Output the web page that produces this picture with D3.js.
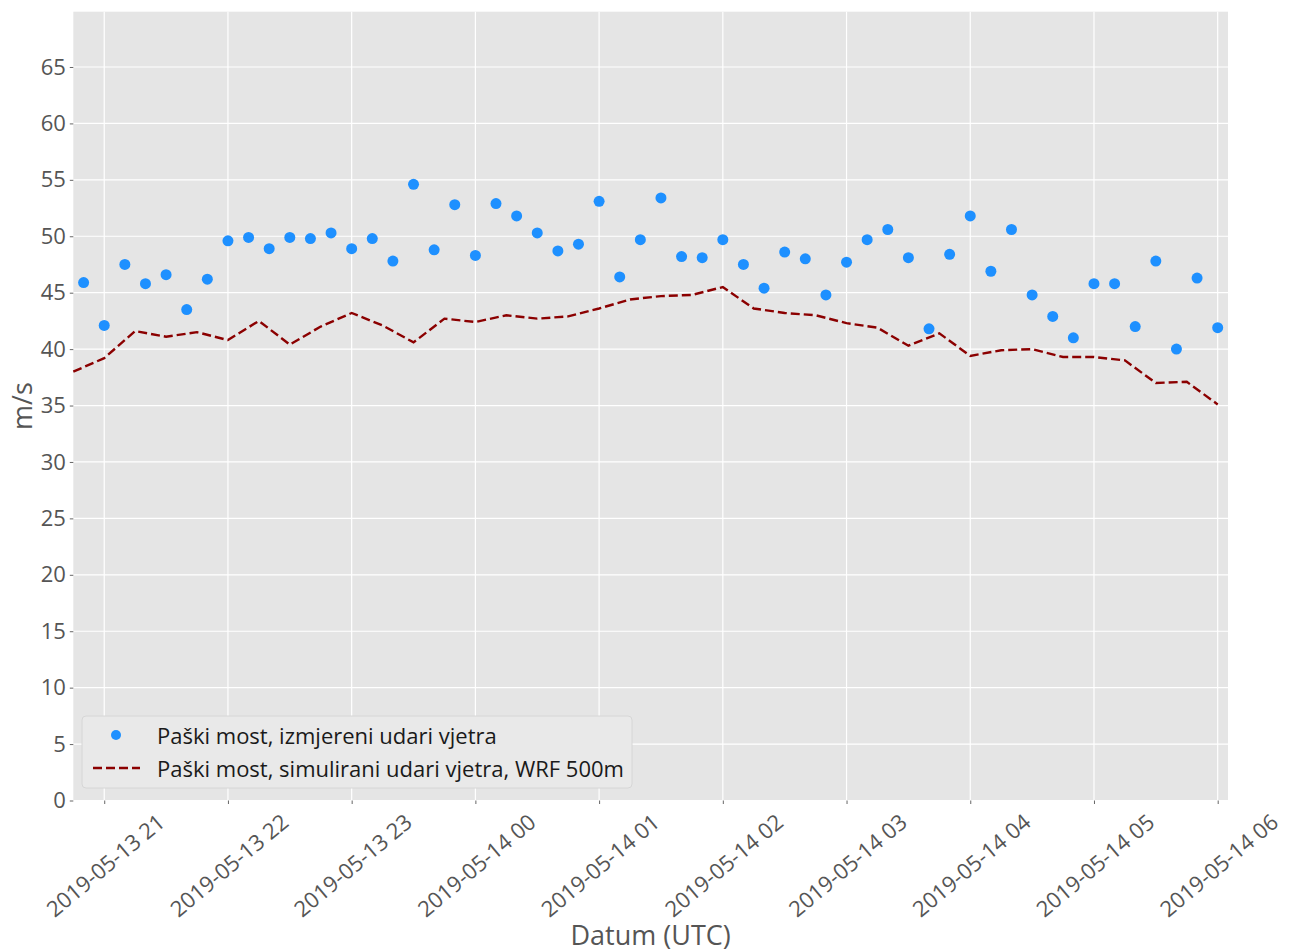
<!DOCTYPE html>
<html>
<head>
<meta charset="utf-8">
<script src="https://cdn.jsdelivr.net/npm/d3@7"></script>
<style>
  html, body { margin: 0; padding: 0; background: #ffffff; }
  svg { display: block; font-family: "Open Sans", "Noto Sans", "DejaVu Sans", sans-serif; }
</style>
</head>
<body>
<svg id="chart" width="1291" height="952"></svg>
<script>
// Measured wind gusts, Paški most, every 10 minutes from 20:50 to 06:00 UTC
const measuredStart = "2019-05-13T20:50:00Z";
const measuredGusts = [
  45.9, 42.1, 47.5, 45.8, 46.6, 43.5, 46.2, 49.6, 49.9, 48.9,
  49.9, 49.8, 50.3, 48.9, 49.8, 47.8, 54.6, 48.8, 52.8, 48.3,
  52.9, 51.8, 50.3, 48.7, 49.3, 53.1, 46.4, 49.7, 53.4, 48.2,
  48.1, 49.7, 47.5, 45.4, 48.6, 48.0, 44.8, 47.7, 49.7, 50.6,
  48.1, 41.8, 48.4, 51.8, 46.9, 50.6, 44.8, 42.9, 41.0, 45.8,
  45.8, 42.0, 47.8, 40.0, 46.3, 41.9
];

// Simulated wind gusts (WRF 500m), every 15 minutes from 20:45 to 06:00 UTC
const simulatedStart = "2019-05-13T20:45:00Z";
const simulatedGusts = [
  38.0, 39.2, 41.6, 41.1, 41.5, 40.8, 42.5, 40.4, 42.0, 43.2,
  42.1, 40.6, 42.7, 42.4, 43.0, 42.7, 42.9, 43.6, 44.4, 44.7,
  44.8, 45.5, 43.6, 43.2, 43.0, 42.3, 41.9, 40.3, 41.4, 39.4,
  39.9, 40.0, 39.3, 39.3, 39.0, 37.0, 37.1, 35.1
];

const xDomain = ["2019-05-13T20:45:00Z", "2019-05-14T06:05:00Z"];
const yTicks = [0, 5, 10, 15, 20, 25, 30, 35, 40, 45, 50, 55, 60, 65];
const yMax = 69.9;

const legendLabels = [
  "Paški most, izmjereni udari vjetra",
  "Paški most, simulirani udari vjetra, WRF 500m"
];
const xLabel = "Datum (UTC)";
const yLabel = "m/s";

const margin = { left: 73.3, right: 1228, top: 11.7, bottom: 800.5 };
const tickFont = "'Open Sans', 'Noto Sans', sans-serif";

const svg = d3.select("#chart");

const x = d3.scaleUtc()
  .domain(xDomain.map(d => new Date(d)))
  .range([margin.left, margin.right]);
const y = d3.scaleLinear()
  .domain([0, yMax])
  .range([margin.bottom, margin.top]);

const t0m = new Date(measuredStart);
const measured = measuredGusts.map((v, i) => ({ t: d3.utcMinute.offset(t0m, 10 * i), v }));
const t0s = new Date(simulatedStart);
const simulated = simulatedGusts.map((v, i) => ({ t: d3.utcMinute.offset(t0s, 15 * i), v }));

// Plot background
svg.append("rect")
  .attr("x", margin.left).attr("y", margin.top)
  .attr("width", margin.right - margin.left)
  .attr("height", margin.bottom - margin.top)
  .attr("fill", "#E5E5E5");

const xTicks = d3.utcHour.range(new Date("2019-05-13T21:00:00Z"), new Date("2019-05-14T06:00:01Z"));
const fmt = d3.utcFormat("%Y-%m-%d %H");

// Grid
const grid = svg.append("g");
grid.selectAll("line.gy").data(yTicks).join("line")
  .attr("x1", margin.left).attr("x2", margin.right)
  .attr("y1", d => y(d)).attr("y2", d => y(d))
  .attr("stroke", "#ffffff").attr("stroke-width", 1.2);
grid.selectAll("line.gx").data(xTicks).join("line")
  .attr("x1", d => x(d)).attr("x2", d => x(d))
  .attr("y1", margin.top).attr("y2", margin.bottom)
  .attr("stroke", "#ffffff").attr("stroke-width", 1.2);

// Y axis
const yAxis = d3.axisLeft(y).tickValues(yTicks).tickSize(3.5).tickPadding(4);
const gy = svg.append("g").attr("transform", `translate(${margin.left},0)`).call(yAxis);
gy.select(".domain").remove();
gy.selectAll(".tick line").attr("stroke", "#555555").attr("stroke-width", 0.9);
gy.selectAll(".tick text").attr("fill", "#555555").style("font-size", "22px")
  .style("font-family", tickFont);

// X axis
const xAxis = d3.axisBottom(x).tickValues(xTicks).tickFormat(fmt).tickSize(3.5).tickPadding(4);
const gx = svg.append("g").attr("transform", `translate(0,${margin.bottom})`).call(xAxis);
gx.select(".domain").remove();
gx.selectAll(".tick line").attr("stroke", "#555555").attr("stroke-width", 0.9);
gx.selectAll(".tick text")
  .attr("fill", "#555555").style("font-size", "22px")
  .style("font-family", tickFont)
  .attr("text-anchor", "middle")
  .attr("dy", null)
  .attr("y", 0)
  .attr("dominant-baseline", "central")
  .attr("transform", "translate(0,64) rotate(-40)");

// Simulated line
const line = d3.line().x(d => x(d.t)).y(d => y(d.v));
svg.append("path")
  .datum(simulated)
  .attr("d", line)
  .attr("fill", "none")
  .attr("stroke", "#8B0000")
  .attr("stroke-width", 2.4)
  .attr("stroke-dasharray", "9,4");

// Measured points
svg.append("g").selectAll("circle").data(measured).join("circle")
  .attr("cx", d => x(d.t)).attr("cy", d => y(d.v))
  .attr("r", 5.5)
  .attr("fill", "#1E90FF");

// Axis titles
svg.append("text")
  .attr("x", (margin.left + margin.right) / 2).attr("y", 945)
  .attr("text-anchor", "middle")
  .attr("fill", "#555555").style("font-size", "27px")
  .text(xLabel);
svg.append("text")
  .attr("transform", `translate(32,${(margin.top + margin.bottom) / 2}) rotate(-90)`)
  .attr("text-anchor", "middle")
  .attr("fill", "#555555").style("font-size", "27px")
  .text(yLabel);

// Legend
const lg = svg.append("g");
lg.append("rect")
  .attr("x", 82).attr("y", 716).attr("width", 550).attr("height", 72)
  .attr("rx", 4).attr("ry", 4)
  .attr("fill", "#E9E9E9").attr("stroke", "#D6D6D6").attr("stroke-width", 1);
lg.append("circle").attr("cx", 116).attr("cy", 735).attr("r", 5).attr("fill", "#1E90FF");
lg.append("line").attr("x1", 93).attr("x2", 140).attr("y1", 768).attr("y2", 768)
  .attr("stroke", "#8B0000").attr("stroke-width", 2.4).attr("stroke-dasharray", "9,4");
lg.selectAll("text").data(legendLabels).join("text")
  .attr("x", 157).attr("y", (d, i) => 735 + i * 33)
  .attr("dominant-baseline", "central")
  .attr("fill", "#1a1a1a").style("font-size", "22px")
  .text(d => d);
</script>
</body>
</html>
